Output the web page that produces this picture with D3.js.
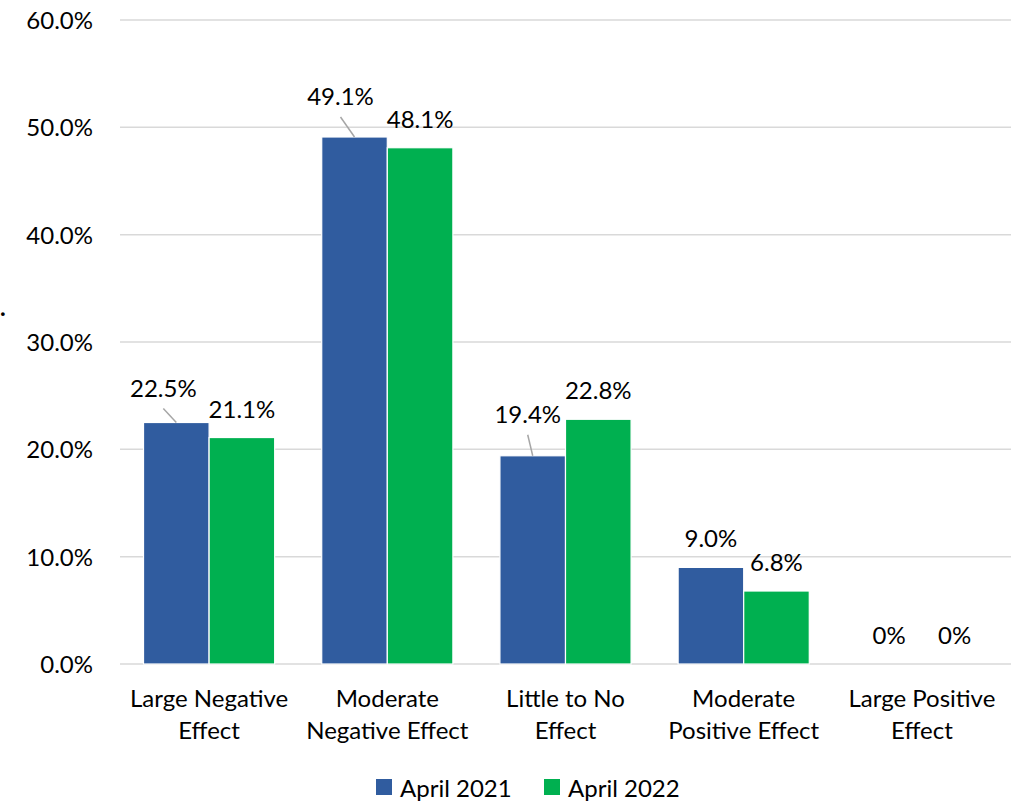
<!DOCTYPE html>
<html>
<head>
<meta charset="utf-8">
<script src="https://cdn.jsdelivr.net/npm/d3@7"></script>
<style>
  body { margin: 0; background: #fff; }
  text { font-family: Lato, "Open Sans", sans-serif; fill: #000; }
</style>
</head>
<body>
<script>
// categories and series
var categories = [
  ["Large Negative", "Effect"],
  ["Moderate", "Negative Effect"],
  ["Little to No", "Effect"],
  ["Moderate", "Positive Effect"],
  ["Large Positive", "Effect"]
];
var seriesNames = ["April 2021", "April 2022"];
var april2021 = [22.5, 49.1, 19.4, 9.0, 0];
var april2022 = [21.1, 48.1, 22.8, 6.8, 0];
var label2021 = ["22.5%", "49.1%", "19.4%", "9.0%", "0%"];
var label2022 = ["21.1%", "48.1%", "22.8%", "6.8%", "0%"];
var yTicks = [0, 10, 20, 30, 40, 50, 60];

var colors = ["#305C9F", "#00B050"];
// labels moved away from the bar (with a leader line) in the original
var nudge2021 = [[-13, -6], [-14, -12], [-5, -13], [0, 0], [0, 0]];

var larg = 1025, haut = 801;
var mLeft = 120, mRight = 1011, mTop = 20, mBottom = 664;
var fs = 24;

var svg = d3.select("body").append("svg")
  .attr("width", larg)
  .attr("height", haut);

var y = d3.scaleLinear().domain([0, 60]).range([mBottom, mTop]);
var x0 = d3.scaleBand()
  .domain(d3.range(categories.length))
  .range([mLeft, mRight])
  .paddingInner(0.264)
  .paddingOuter(0.132);
var x1 = d3.scaleBand()
  .domain([0, 1])
  .range([0, x0.bandwidth()])
  .padding(0);

// grille
svg.append("g").selectAll("line")
  .data(yTicks)
  .enter().append("line")
  .attr("x1", mLeft).attr("x2", mRight)
  .attr("y1", function(d) { return y(d); })
  .attr("y2", function(d) { return y(d); })
  .attr("stroke", "#d9d9d9")
  .attr("stroke-width", 1.5);

// axe y
var yAxis = d3.axisLeft(y)
  .tickValues(yTicks)
  .tickFormat(function(d) { return d.toFixed(1) + "%"; })
  .tickSize(0)
  .tickPadding(27);
var gy = svg.append("g").attr("transform", "translate(" + mLeft + ",0)").call(yAxis);
gy.select(".domain").remove();
gy.selectAll("text")
  .attr("font-size", fs)
  .attr("font-family", "Lato, sans-serif")
  .attr("fill", "#000")
  .attr("dy", "0.35em");

var series = [april2021, april2022];
var labels = [label2021, label2022];

// barres
series.forEach(function(vals, s) {
  svg.append("g").selectAll("rect")
    .data(vals)
    .enter().append("rect")
    .attr("x", function(d, i) { return x0(i) + x1(s); })
    .attr("y", function(d) { return y(d); })
    .attr("width", x1.bandwidth())
    .attr("height", function(d) { return mBottom - y(d); })
    .attr("fill", colors[s])
    .attr("stroke", "#fff")
    .attr("stroke-width", function(d) { return d > 0 ? 1.2 : 0; });
});

// libellés
series.forEach(function(vals, s) {
  var g = svg.append("g");
  vals.forEach(function(d, i) {
    var cx = x0(i) + x1(s) + x1.bandwidth() / 2;
    var base = y(d) - 20;
    var n = s === 0 ? nudge2021[i] : [0, 0];
    if (n[0] !== 0 || n[1] !== 0) {
      g.append("line")
        .attr("x1", cx + n[0]).attr("y1", base + n[1] + 12)
        .attr("x2", cx).attr("y2", y(d))
        .attr("stroke", "#a6a6a6")
        .attr("stroke-width", 1.5);
    }
    g.append("text")
      .attr("x", cx + n[0])
      .attr("y", base + n[1])
      .attr("text-anchor", "middle")
      .attr("font-size", fs)
      .text(labels[s][i]);
  });
});

// catégories
svg.append("g").selectAll("text")
  .data(categories)
  .enter().append("text")
  .attr("x", function(d, i) { return x0(i) + x0.bandwidth() / 2; })
  .attr("y", 707)
  .attr("text-anchor", "middle")
  .attr("font-size", fs)
  .each(function(d) {
    var t = d3.select(this);
    d.forEach(function(line, k) {
      t.append("tspan")
        .attr("x", t.attr("x"))
        .attr("dy", k === 0 ? 0 : 32)
        .text(line);
    });
  });

// légende
var leg = svg.append("g");
var lx = [376, 544];
seriesNames.forEach(function(name, s) {
  leg.append("rect")
    .attr("x", lx[s]).attr("y", 779)
    .attr("width", 16).attr("height", 16)
    .attr("fill", colors[s]);
  leg.append("text")
    .attr("x", lx[s] + 24).attr("y", 797)
    .attr("font-size", fs)
    .text(name);
});

// reste du titre de l'axe, coupé au bord
svg.append("text")
  .attr("x", 0).attr("y", 316)
  .attr("font-size", fs)
  .attr("font-weight", "bold")
  .text(".");
</script>
</body>
</html>
